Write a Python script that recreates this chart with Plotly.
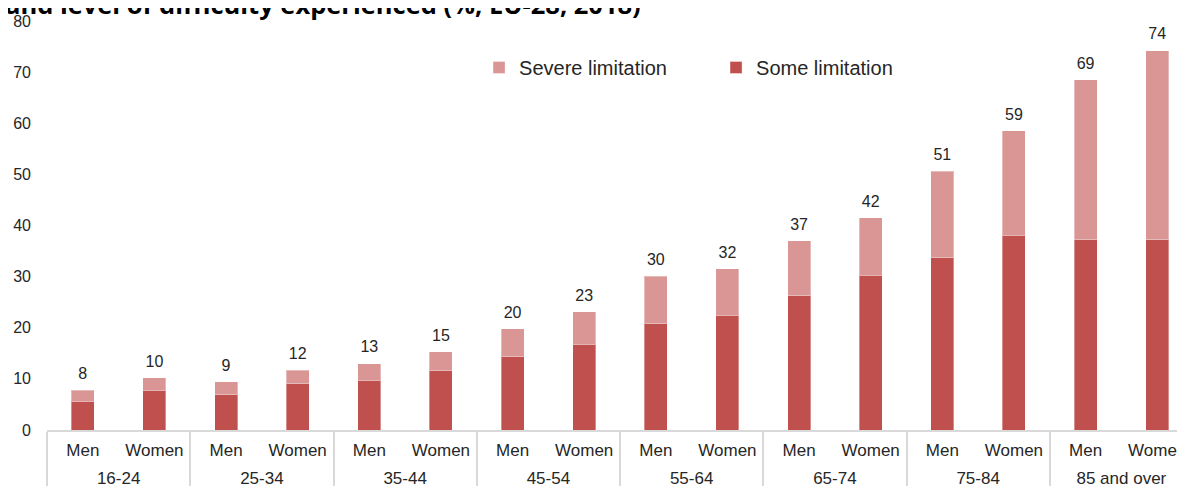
import plotly.graph_objects as go

# age groups and sex (two-level x axis)
age_groups = ["16-24", "25-34", "35-44", "45-54", "55-64", "65-74", "75-84", "85 and over"]
sexes = ["Men", "Women"]

# values in % (Men, Women per age group)
some_limitation = [5.6, 7.8, 6.9, 9.0, 9.7, 11.6, 14.3, 16.8,
                   20.8, 22.4, 26.3, 30.3, 33.7, 38.1, 37.2, 37.2]
severe_limitation = [2.2, 2.4, 2.5, 2.7, 3.3, 3.7, 5.5, 6.3,
                     9.3, 9.1, 10.7, 11.2, 16.9, 20.4, 31.3, 37.0]
total_labels = [8, 10, 9, 12, 13, 15, 20, 23, 30, 32, 37, 42, 51, 59, 69, 74]

n_sex = len(sexes)
pos = list(range(len(age_groups) * n_sex))
inner_text = [s for g in age_groups for s in sexes]
group_pos = [i * n_sex + (n_sex - 1) / 2 for i in range(len(age_groups))]
totals = [a + b for a, b in zip(some_limitation, severe_limitation)]

fig = go.Figure()

fig.add_trace(go.Bar(
    x=pos, y=some_limitation, name="Some limitation",
    marker=dict(color="#C0504D", line=dict(color="rgba(255,255,255,0.35)", width=1)),
    width=0.32,
))
fig.add_trace(go.Bar(
    x=pos, y=severe_limitation, name="Severe limitation",
    marker=dict(color="#D99694", line=dict(color="rgba(255,255,255,0.35)", width=1)),
    width=0.32,
))
# total labels above the stacks
fig.add_trace(go.Scatter(
    x=pos, y=totals, mode="markers+text",
    text=[str(v) for v in total_labels], textposition="top center",
    textfont=dict(family="Liberation Sans, Arial", size=16, color="#262626"),
    marker=dict(size=10, opacity=0),
    showlegend=False, hoverinfo="skip",
))
# carrier for the age-group axis
fig.add_trace(go.Scatter(
    x=group_pos, y=[None] * len(group_pos), xaxis="x2",
    showlegend=False, hoverinfo="skip",
))

fig.update_layout(
    width=1185, height=486,
    margin=dict(l=39, r=0, t=13, b=64),
    barmode="stack",
    plot_bgcolor="white", paper_bgcolor="white",
    font=dict(family="Liberation Sans, Arial", color="#262626"),
    legend=dict(
        orientation="h", x=0.377, y=0.934, xanchor="left", yanchor="top",
        traceorder="reversed", font=dict(size=20, color="#262626"),
        entrywidth=192, bgcolor="rgba(0,0,0,0)",
    ),
    annotations=[dict(
        text="<b>and level of difficulty experienced (%, EU-28, 2018)</b>",
        xref="paper", yref="paper", x=-0.038, y=0.995,
        xanchor="left", yanchor="bottom", showarrow=False,
        font=dict(family="Open Sans", size=25.5, color="black"),
    )],
    xaxis=dict(
        range=[-0.5, 15.5], automargin=False,
        tickmode="array", tickvals=pos, ticktext=inner_text,
        ticks="", ticklabelstandoff=4,
        showline=True, linecolor="#D9D9D9", linewidth=2,
        showgrid=False, zeroline=False,
        tickfont=dict(size=17, color="#262626"),
        minor=dict(ticks="outside", tick0=-0.5, dtick=n_sex, ticklen=60,
                   tickcolor="#D9D9D9", tickwidth=2, showgrid=False),
    ),
    xaxis2=dict(
        overlaying="x", matches="x", anchor="free", position=0, side="bottom",
        automargin=False, tickmode="array", tickvals=group_pos, ticktext=age_groups,
        ticks="", ticklabelstandoff=36, showline=False, showgrid=False, zeroline=False,
        tickfont=dict(size=17, color="#262626"),
    ),
    yaxis=dict(
        range=[0, 80], dtick=10, automargin=False,
        showgrid=False, zeroline=False, showline=False,
        tickfont=dict(size=16, color="#262626"), ticklabelstandoff=15,
    ),
)

fig.write_html("out.html")
